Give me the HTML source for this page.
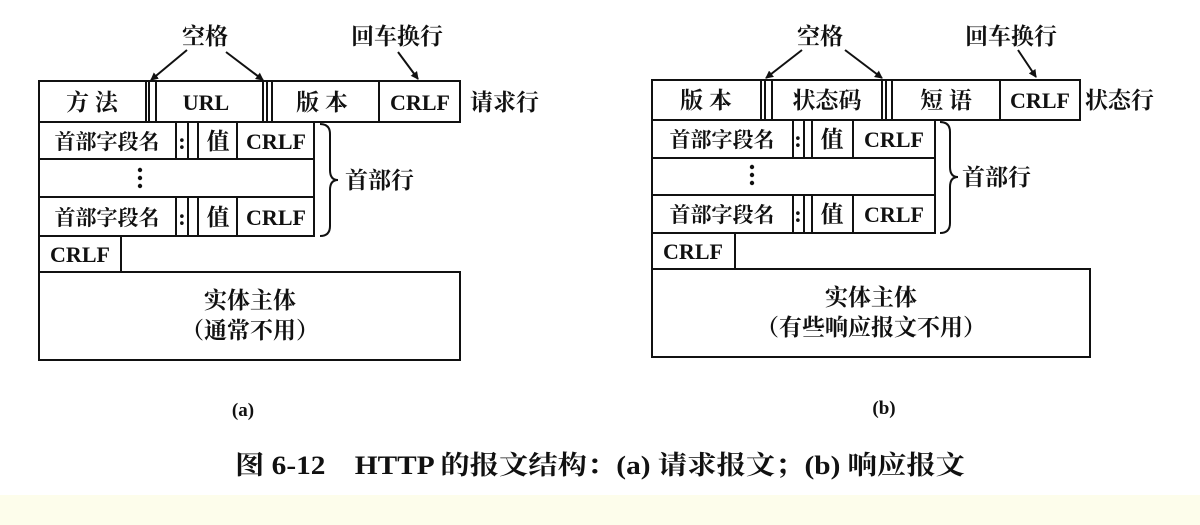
<!DOCTYPE html>
<html><head><meta charset="utf-8"><style>
html,body{margin:0;padding:0;background:#fff;}
svg{display:block}
text{font-family:"Liberation Serif","Noto Serif CJK SC",serif;fill:#111;font-weight:bold}
</style></head><body>
<svg width="1200" height="525" viewBox="0 0 1200 525" xmlns="http://www.w3.org/2000/svg">
<defs><marker id="ah" markerWidth="8" markerHeight="8" refX="7" refY="4" orient="auto" markerUnits="userSpaceOnUse"><path d="M0,0 L8,4 L0,8 z" fill="#111"/></marker></defs>
<rect x="0" y="0" width="1200" height="495" fill="#fff"/>
<rect x="0" y="495" width="1200" height="30" fill="#fdfdeb"/>
<g stroke="#111" stroke-width="2" fill="none">
<rect x="39" y="81" width="421" height="41"/>
<line x1="146" y1="81" x2="146" y2="122"/><line x1="149" y1="81" x2="149" y2="122"/><line x1="156" y1="81" x2="156" y2="122"/>
<line x1="263" y1="81" x2="263" y2="122"/><line x1="267" y1="81" x2="267" y2="122"/><line x1="272" y1="81" x2="272" y2="122"/>
<line x1="379" y1="81" x2="379" y2="122"/>
<rect x="39" y="122" width="275" height="114"/>
<line x1="39" y1="159" x2="314" y2="159"/><line x1="39" y1="197" x2="314" y2="197"/>
<g><line x1="176" y1="122" x2="176" y2="159"/><line x1="188" y1="122" x2="188" y2="159"/><line x1="198" y1="122" x2="198" y2="159"/><line x1="237" y1="122" x2="237" y2="159"/></g>
<g><line x1="176" y1="197" x2="176" y2="236"/><line x1="188" y1="197" x2="188" y2="236"/><line x1="198" y1="197" x2="198" y2="236"/><line x1="237" y1="197" x2="237" y2="236"/></g>
<rect x="39" y="236" width="82" height="36"/>
<rect x="39" y="272" width="421" height="88"/>
<path d="M320,124 Q330,124 330,134 L330,170 Q330,180 338,180 Q330,180 330,190 L330,226 Q330,236 320,236"/>
<line x1="187" y1="50" x2="151" y2="80" marker-end="url(#ah)"/>
<line x1="226" y1="52" x2="263" y2="80" marker-end="url(#ah)"/>
<line x1="398" y1="52" x2="418" y2="79" marker-end="url(#ah)"/>
<rect x="652" y="80" width="428" height="40"/>
<line x1="761" y1="80" x2="761" y2="120"/><line x1="765" y1="80" x2="765" y2="120"/><line x1="772" y1="80" x2="772" y2="120"/>
<line x1="882" y1="80" x2="882" y2="120"/><line x1="886" y1="80" x2="886" y2="120"/><line x1="892" y1="80" x2="892" y2="120"/>
<line x1="1000" y1="80" x2="1000" y2="120"/>
<rect x="652" y="120" width="283" height="113"/>
<line x1="652" y1="158" x2="935" y2="158"/><line x1="652" y1="195" x2="935" y2="195"/>
<g><line x1="793" y1="120" x2="793" y2="158"/><line x1="804" y1="120" x2="804" y2="158"/><line x1="812" y1="120" x2="812" y2="158"/><line x1="853" y1="120" x2="853" y2="158"/></g>
<g><line x1="793" y1="195" x2="793" y2="233"/><line x1="804" y1="195" x2="804" y2="233"/><line x1="812" y1="195" x2="812" y2="233"/><line x1="853" y1="195" x2="853" y2="233"/></g>
<rect x="652" y="233" width="83" height="36"/>
<rect x="652" y="269" width="438" height="88"/>
<path d="M940,122 Q950,122 950,132 L950,167 Q950,177 958,177 Q950,177 950,187 L950,223 Q950,233 940,233"/>
<line x1="802" y1="50" x2="766" y2="78" marker-end="url(#ah)"/>
<line x1="845" y1="50" x2="882" y2="78" marker-end="url(#ah)"/>
<line x1="1018" y1="50" x2="1036" y2="77" marker-end="url(#ah)"/>
</g>
<g fill="#111">
<circle cx="140" cy="170" r="2.2"/><circle cx="140" cy="178" r="2.2"/><circle cx="140" cy="186" r="2.2"/>
<circle cx="752" cy="167" r="2.2"/><circle cx="752" cy="175" r="2.2"/><circle cx="752" cy="183" r="2.2"/>
</g>
<g font-size="23">
<text x="205" y="44" text-anchor="middle">空格</text>
<text x="397" y="44" text-anchor="middle">回车换行</text>
<text x="92" y="110" text-anchor="middle">方 法</text>
<text x="206" y="110" text-anchor="middle" font-size="22">URL</text>
<text x="322" y="110" text-anchor="middle">版 本</text>
<text x="420" y="110" text-anchor="middle" font-size="22">CRLF</text>
<text x="470" y="110">请求行</text>
<text x="107" y="149" text-anchor="middle" font-size="21">首部字段名</text>
<text x="182" y="149" text-anchor="middle">:</text>
<text x="218" y="149" text-anchor="middle">值</text>
<text x="276" y="149" text-anchor="middle" font-size="22">CRLF</text>
<text x="107" y="225" text-anchor="middle" font-size="21">首部字段名</text>
<text x="182" y="225" text-anchor="middle">:</text>
<text x="218" y="225" text-anchor="middle">值</text>
<text x="276" y="225" text-anchor="middle" font-size="22">CRLF</text>
<text x="345" y="188">首部行</text>
<text x="80" y="262" text-anchor="middle" font-size="22">CRLF</text>
<text x="250" y="308" text-anchor="middle">实体主体</text>
<text x="250" y="338" text-anchor="middle">（通常不用）</text>
<text x="243" y="416" text-anchor="middle" font-size="19">(a)</text>

<text x="820" y="44" text-anchor="middle">空格</text>
<text x="1011" y="44" text-anchor="middle">回车换行</text>
<text x="706" y="108" text-anchor="middle">版 本</text>
<text x="827" y="108" text-anchor="middle">状态码</text>
<text x="946" y="108" text-anchor="middle">短 语</text>
<text x="1040" y="108" text-anchor="middle" font-size="22">CRLF</text>
<text x="1085" y="108">状态行</text>
<text x="722" y="147" text-anchor="middle" font-size="21">首部字段名</text>
<text x="798" y="147" text-anchor="middle">:</text>
<text x="832" y="147" text-anchor="middle">值</text>
<text x="894" y="147" text-anchor="middle" font-size="22">CRLF</text>
<text x="722" y="222" text-anchor="middle" font-size="21">首部字段名</text>
<text x="798" y="222" text-anchor="middle">:</text>
<text x="832" y="222" text-anchor="middle">值</text>
<text x="894" y="222" text-anchor="middle" font-size="22">CRLF</text>
<text x="962" y="185">首部行</text>
<text x="693" y="259" text-anchor="middle" font-size="22">CRLF</text>
<text x="871" y="305" text-anchor="middle">实体主体</text>
<text x="871" y="335" text-anchor="middle">（有些响应报文不用）</text>
<text x="884" y="414" text-anchor="middle" font-size="19">(b)</text>

<text x="600" y="474" text-anchor="middle" font-size="26" textLength="730" lengthAdjust="spacingAndGlyphs">图 6-12　HTTP 的报文结构：(a) 请求报文；(b) 响应报文</text>
</g>
</svg>
</body></html>
